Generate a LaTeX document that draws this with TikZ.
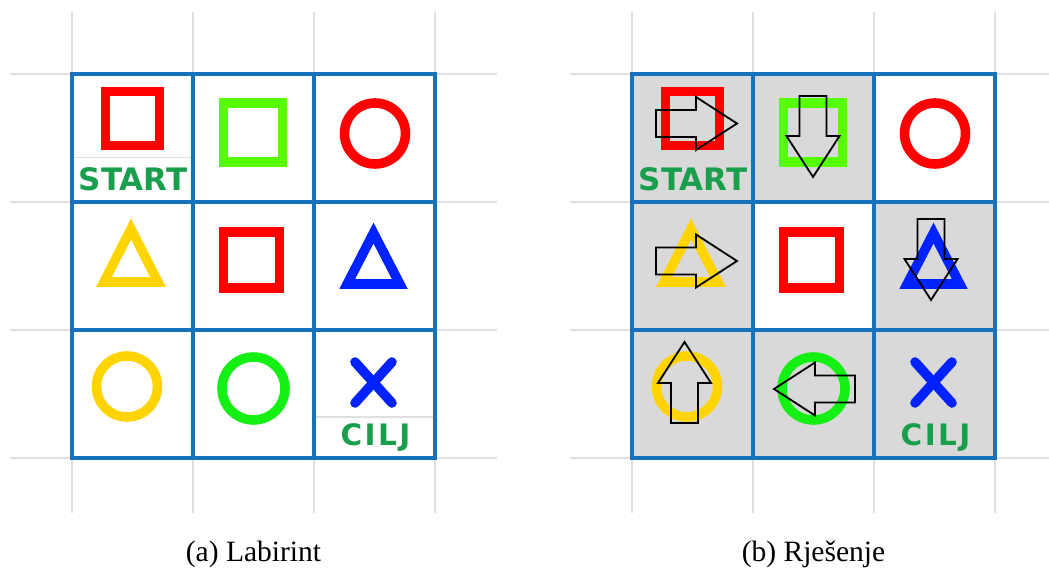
\documentclass[tikz,border=0pt]{standalone}
\usepackage{fontspec}
\setmainfont{Liberation Serif}
\newfontfamily\comicfont{DejaVu Sans}
\newfontfamily\comicwide{DejaVu Sans}[LetterSpace=8]
\usetikzlibrary{positioning}

\definecolor{mazeblue}{RGB}{23,114,190}
\definecolor{bggray}{RGB}{224,224,224}
\definecolor{cellgray}{RGB}{217,217,217}
\definecolor{symred}{RGB}{255,0,0}
\definecolor{symlime}{RGB}{85,255,0}
\definecolor{symgreen}{RGB}{20,240,20}
\definecolor{symyellow}{RGB}{255,212,0}
\definecolor{symblue}{RGB}{0,34,255}
\definecolor{textgreen}{RGB}{25,158,75}

% cells of one maze, #1 = name prefix
\newcommand{\mazecells}[1]{%
  \foreach \c/\x in {1/132.5,2/253.5,3/374.5}
    \foreach \r/\y in {1/435,2/307,3/179}
      \node[cell] (#1\r\c) at (\x,\y) {};
}
\newcommand{\mazegrid}[1]{%
  \foreach \n in {11,12,13,21,22,23,31,32,33}
    \draw[mazeline] (#1\n.south west) rectangle (#1\n.north east);
}
% light grid behind a maze, #1 = right end
\newcommand{\bggrid}[1]{%
  \foreach \x in {72,193,314,435}
    \draw[bgline] (\x,561) -- (\x,60);
  \foreach \y in {499,371,243,115}
    \draw[bgline] (10,\y) -- (#1,\y);
}
% the nine symbols
\newcommand{\mazesymbols}[1]{%
  \draw[sym,draw=symred] (105.5,427.5) rectangle (159.5,481.5);
  \draw[sym,draw=symlime] (223.5,411) rectangle (282.5,470);
  \draw[sym,draw=symred] (375,439.5) circle (30.5);
  \draw[sym,draw=symyellow] (131,344) -- (104,291) -- (158,291) -- cycle;
  \draw[sym,draw=symred] (223.5,285) rectangle (279.5,341);
  \draw[sym,draw=symblue] (373.5,340) -- (347.2,289) -- (399.8,289) -- cycle;
  \draw[sym,draw=symyellow] (127,186.5) circle (30.5);
  \draw[sym,draw=symgreen] (253.5,184.5) circle (31.5);
  \draw[sym,draw=symblue,line cap=round] (355,211) -- (392,170);
  \draw[sym,draw=symblue,line cap=round] (355,170) -- (392,211);
  \node[goal] (#1start) at ([shift={(0.5,-53)}]#111.center) {START};
  \node[goal,font=\comicwide\bfseries\fontsize{21}{25}\selectfont] (#1cilj)
    at ([shift={(1,-51)}]#133.center) {CILJ};
}
% block arrow: tail x, tail y, angle
\newcommand{\wayarrow}[3]{%
  \draw[wayline,shift={(#1,#2)},rotate=#3]
    (0,13.5) -- (40,13.5) -- (40,26.5) -- (81,0) -- (40,-26.5) -- (40,-13.5) -- (0,-13.5) -- cycle;
}

\begin{document}
\begin{tikzpicture}[
  x=0.025cm,y=0.025cm,
  cell/.style={minimum width=3.025cm,minimum height=3.2cm,inner sep=0pt,outer sep=0pt},
  mazeline/.style={draw=mazeblue,line width=2.8pt},
  bgline/.style={draw=bggray,line width=1.4pt},
  thinline/.style={draw=bggray,line width=1pt},
  sym/.style={line width=6.8pt},
  wayline/.style={draw=black,line width=1.3pt},
  goal/.style={font=\comicfont\bfseries\fontsize{22}{26}\selectfont,text=textgreen,inner sep=0pt,anchor=base},
  caption/.style={font=\fontsize{21}{25}\selectfont,inner sep=0pt,anchor=base}
]
  \useasboundingbox (0,0) rectangle (1049,573);

  % (a) labirint
  \bggrid{497}
  \mazecells{L}
  \mazegrid{L}
  \draw[thinline] (74,415.5) -- (191,415.5);
  \draw[thinline] (316,156) -- (433,156);
  \mazesymbols{L}
  \node[caption] (capL) at (253.5,12) {(a) Labirint};

  % (b) rjesenje
  \begin{scope}[shift={(560,0)}]
    \bggrid{489}
    \mazecells{R}
    \foreach \n in {11,12,21,23,31,32,33}
      \fill[cellgray] (R\n.south west) rectangle (R\n.north east);
    \mazegrid{R}
    \mazesymbols{R}
    \wayarrow{96}{449.5}{0}
    \wayarrow{253}{477}{-90}
    \wayarrow{96}{312}{0}
    \wayarrow{371}{354}{-90}
    \wayarrow{124.5}{150}{90}
    \wayarrow{295}{184}{180}
  \end{scope}
  \node[caption] (capR) at (813.5,12) {(b) Rješenje};
\end{tikzpicture}
\end{document}
